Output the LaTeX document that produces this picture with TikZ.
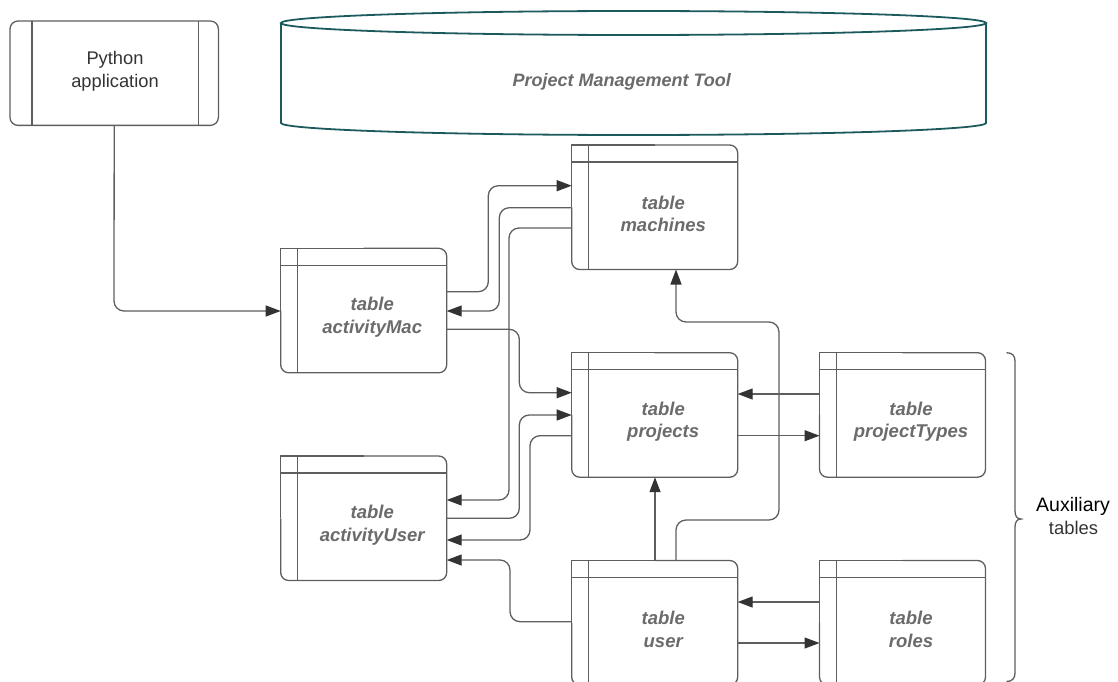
\documentclass[tikz,border=0pt]{standalone}
\usepackage{fontspec}
\setmainfont{Liberation Sans}
\usetikzlibrary{arrows.meta,calc}

\definecolor{framegray}{HTML}{5E5E5E}
\definecolor{labelgray}{HTML}{6B6B6B}
\definecolor{tipgray}{HTML}{333333}
\definecolor{dbteal}{HTML}{1C5A5E}
\definecolor{apptext}{HTML}{333333}

\tikzset{
  tablenode/.style={rectangle, minimum width=166pt, minimum height=124.5pt,
    inner sep=0pt, outer sep=0pt, anchor=north west},
  frame/.style={draw=framegray, line width=1.3pt, line join=round},
  tablelabel/.style={align=center, text=labelgray,
    font=\fontsize{18.5}{22.7}\selectfont\bfseries\itshape},
  conn/.style={draw=framegray, line width=1.3pt, rounded corners=10pt,
    -{Triangle[length=15pt,width=11pt,color=tipgray]}},
  plain/.style={draw=framegray, line width=1.3pt, rounded corners=10pt},
}

% A table box: square top-left corner, header strip and left band
\newcommand{\dbtable}[4]{%
  \node[tablenode] (#1) at (#2,#3) {};
  \draw[frame, rounded corners=8pt] (#1.north) -- (#1.north east) -- (#1.south east)
     -- (#1.south west) -- (#1.west);
  \draw[frame] (#1.west) -- (#1.north west) -- (#1.north);
  \draw[frame] ($(#1.north west)+(0,17)$) -- ($(#1.north east)+(0,17)$);
  \draw[frame] ($(#1.north west)+(17,0)$) -- ($(#1.south west)+(17,0)$);
  \node[tablelabel] (#1-text) at ($(#1.north west)+(91.5,69)$) {#4};
}

\begin{document}
\begin{tikzpicture}[x=1pt,y=-1pt]
\useasboundingbox (0,0) rectangle (1118,682);
\clip (0,0) rectangle (1118,682);

% Python application
\node[rectangle, minimum width=208pt, minimum height=104pt, inner sep=0pt,
      anchor=north west] (py) at (10,21) {};
\draw[frame, rounded corners=8pt] (py.north west) rectangle (py.south east);
\draw[frame] ($(py.north west)+(22,0)$) -- ($(py.south west)+(22,0)$);
\draw[frame] ($(py.north east)+(-20,0)$) -- ($(py.south east)+(-20,0)$);
\node[align=center, text=apptext, font=\fontsize{18.3}{22.7}\selectfont]
  (py-text) at (115,71) {Python\\application};

% Project Management Tool (cylinder)
\coordinate (db) at (633.5,23);
\draw[draw=dbteal, line width=1.8pt, fill=white]
  (281,23) -- (281,123)
  .. controls (281,129.63) and (438.8,135) .. (633.5,135)
  .. controls (828.2,135) and (986,129.63) .. (986,123)
  -- (986,23);
\draw[draw=dbteal, line width=1.8pt] (db) ellipse [x radius=352.5, y radius=12];
\node[text=labelgray, font=\fontsize{18}{22}\selectfont\bfseries\itshape]
  (db-text) at (621.7,82) {Project Management Tool};

% Tables
\dbtable{aMac}{280.7}{248.3}{table\\activityMac}
\dbtable{aUser}{280.7}{456}{table\\activityUser}
\dbtable{machines}{571.7}{145}{table\\machines}
\dbtable{projects}{571.7}{352.7}{table\\projects}
\dbtable{ptypes}{819.5}{352.7}{table\\projectTypes}
\dbtable{user}{571.7}{560.5}{table\\user}
\dbtable{roles}{819.5}{560.5}{table\\roles}

% Connectors
\draw[conn] (py.south) -- (114,311) -- (aMac.west |- 0,311);
\draw[conn] (aMac.east |- 0,291.7) -- (488.3,291.7) -- (488.3,185.7) -- (machines.west |- 0,185.7);
\draw[conn] (machines.west |- 0,207.7) -- (499.3,207.7) -- (499.3,311) -- (aMac.east |- 0,311);
\draw[conn] (machines.west |- 0,228) -- (509,228) -- (509,500) -- (aUser.east |- 0,500);
\draw[conn] (aMac.east |- 0,329.3) -- (519.3,329.3) -- (519.3,392.7) -- (projects.west |- 0,392.7);
\draw[conn] (aUser.east |- 0,518.3) -- (519.3,518.3) -- (519.3,415) -- (projects.west |- 0,415);
\draw[conn] (projects.west |- 0,435.7) -- (530,435.7) -- (530,540) -- (aUser.east |- 0,540);
\draw[conn] (user.west |- 0,621.7) -- (510,621.7) -- (510,560) -- (aUser.east |- 0,560);
\draw[conn] (user.north -| 655,0) -- (projects.south -| 655,0);
\draw[conn] (user.north -| 676,0) -- (676,520) -- (779,520) -- (779,322) -- (676,322) -- (machines.south -| 676,0);
\draw[conn] (ptypes.west |- 0,394) -- (projects.east |- 0,394);
\draw[conn] (projects.east |- 0,435.7) -- (ptypes.west |- 0,435.7);
\draw[conn] (roles.west |- 0,602) -- (user.east |- 0,602);
\draw[conn] (user.east |- 0,643) -- (roles.west |- 0,643);

% Brace grouping the auxiliary tables
\coordinate (brace-tip) at (1021,519);
\draw[draw=framegray, line width=1.3pt]
  (1006.5,352.7) .. controls (1012,352.7) and (1015,355.5) .. (1015,361)
  -- (1015,511) .. controls (1015,516) and (1017,519) .. (brace-tip)
  .. controls (1017,519) and (1015,522) .. (1015,527)
  -- (1015,673) .. controls (1015,678.5) and (1012,681.5) .. (1006.5,681.5);
\node[text=black, font=\fontsize{19.5}{23}\selectfont] (aux1) at (1073,506) {Auxiliary};
\node[text=apptext, font=\fontsize{18.4}{22}\selectfont] (aux2) at (1073.5,528) {tables};
\end{tikzpicture}
\end{document}
